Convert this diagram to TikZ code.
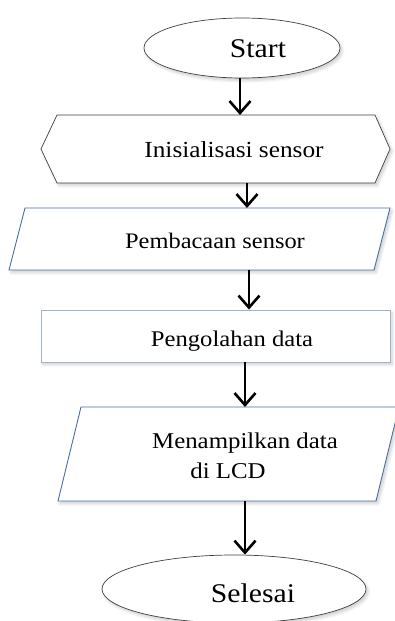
\documentclass[tikz,border=0pt]{standalone}
\usepackage{fontspec}
\setmainfont{Liberation Serif}
\usetikzlibrary{arrows.meta,shapes.geometric,shadows.blur}
\newcommand{\wtxt}[2]{\scalebox{#1}[1]{#2}}
\definecolor{ellline}{HTML}{404040}
\definecolor{parline}{HTML}{4A6EA8}
\definecolor{recline}{HTML}{A3B3CC}
\begin{document}
\begin{tikzpicture}[x=1pt,y=-1pt,
  frame/.style={inner sep=0pt, outer sep=0pt, draw=none},
  shad/.style={blur shadow={shadow xshift=2pt, shadow yshift=-2.5pt, shadow blur steps=6, shadow opacity=20, shadow blur radius=3pt}},
  ell/.style={ellipse, draw=ellline, line width=0.7pt, fill=white, inner sep=0pt, shad},
  hexline/.style={draw=ellline, line width=0.7pt, fill=white, shad},
  parl/.style={draw=parline, line width=0.9pt, fill=white, shad},
  recl/.style={draw=recline, line width=0.9pt, fill=white, shad, inner sep=0pt},
  txt/.style={inner sep=0pt, anchor=base, text=black},
  arr/.style={line width=2.8pt, black, -{Straight Barb[length=12pt, width=21pt, line width=2.6pt]}}
]
\useasboundingbox (0,0) rectangle (394,621);

% shapes
\node[ell, minimum width=196pt, minimum height=60pt] (start) at (242,48) {};

\node[frame, minimum width=349pt, minimum height=68pt] (hex) at (215.5,149) {};
\draw[hexline] (hex.west) -- ([xshift=16pt]hex.north west) -- ([xshift=-15pt]hex.north east)
  -- (hex.east) -- ([xshift=-15pt]hex.south east) -- ([xshift=16pt]hex.south west) -- cycle;

\node[frame, minimum width=381pt, minimum height=62pt] (par1) at (199.5,239) {};
\draw[parl] ([xshift=16pt]par1.north west) -- (par1.north east)
  -- ([xshift=-16pt]par1.south east) -- (par1.south west) -- cycle;

\node[recl, minimum width=349pt, minimum height=52pt] (proc) at (215.5,336) {};

\node[frame, minimum width=341pt, minimum height=94pt] (par2) at (228.5,454) {};
\draw[parl] ([xshift=23pt]par2.north west) -- (par2.north east)
  -- ([xshift=-23pt]par2.south east) -- (par2.south west) -- cycle;

\node[ell, minimum width=264pt, minimum height=68pt] (stop) at (234,589) {};

% texts
\node[txt] (tstart) at (258,57) {\fontsize{27}{32}\selectfont\wtxt{1.1}{Start}};
\node[txt] (thex) at (234,157) {\fontsize{23}{28}\selectfont\wtxt{1.1}{Inisialisasi sensor}};
\node[txt] (tpar1) at (215,248) {\fontsize{22.2}{27}\selectfont\wtxt{1.1}{Pembacaan sensor}};
\node[txt] (tproc) at (232,346) {\fontsize{22.4}{27}\selectfont\wtxt{1.1}{Pengolahan data}};
\node[txt] (tpar2a) at (245,448) {\fontsize{22.6}{27}\selectfont\wtxt{1.1}{Menampilkan data}};
\node[txt] (tpar2b) at (228,478) {\fontsize{22.6}{27}\selectfont\wtxt{1.1}{di LCD}};
\node[txt] (tstop) at (253,602) {\fontsize{27}{32}\selectfont\wtxt{1.1}{Selesai}};

% connectors
\coordinate (c1) at (240,0);
\coordinate (c2) at (247,0);
\coordinate (c3) at (249,0);
\coordinate (c4) at (245,0);
\draw[arr] (start.south -| c1) -- (hex.north -| c1);
\draw[arr] (hex.south -| c2) -- (par1.north -| c2);
\draw[arr] (par1.south -| c3) -- (proc.north -| c3);
\draw[arr] (proc.south -| c4) -- (par2.north -| c4);
\draw[arr] (par2.south -| c4) -- (stop.north -| c4);
\end{tikzpicture}
\end{document}
